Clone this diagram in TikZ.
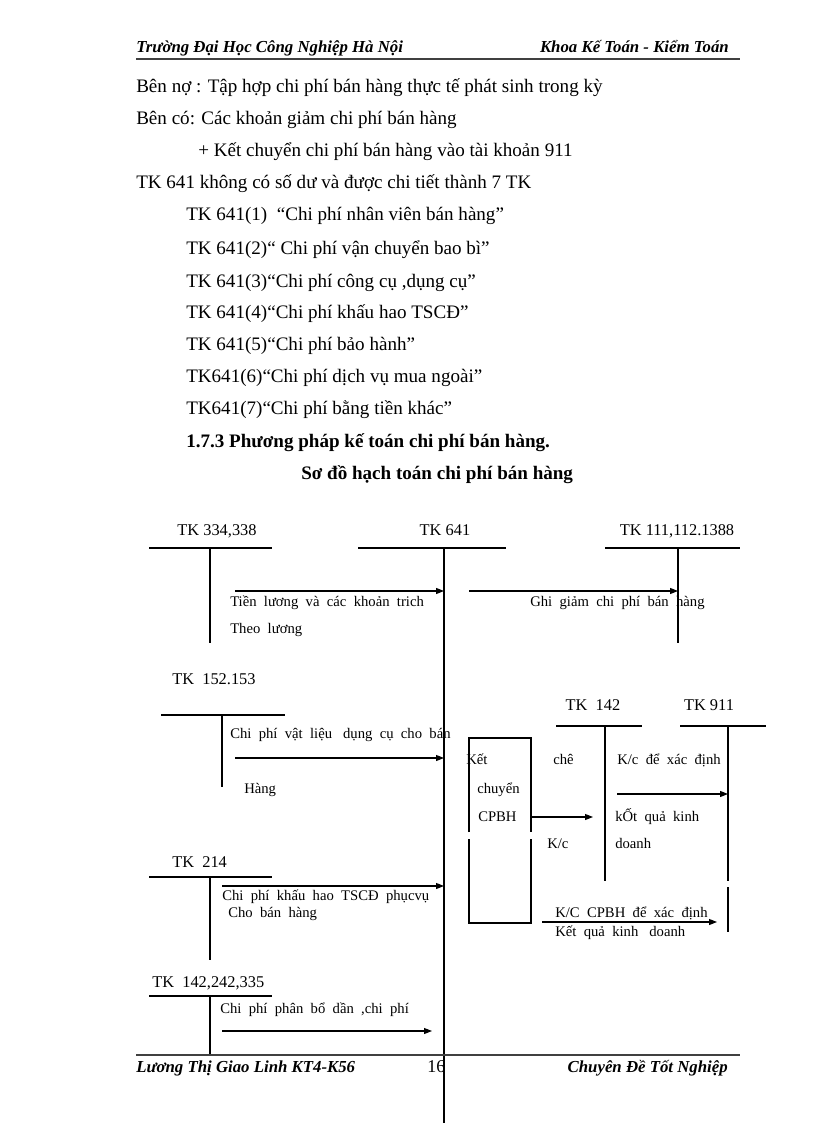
\documentclass[tikz,border=0pt]{standalone}
\usepackage{fontspec}
\setmainfont{Liberation Serif}
\usetikzlibrary{arrows.meta}
\begin{document}
\begin{tikzpicture}[x=0.75pt,y=-0.75pt,
  body/.style={anchor=base west,inner sep=0pt,font=\fontsize{14.3}{16}\selectfont},
  bodyb/.style={body,font=\fontsize{14.3}{16}\selectfont\bfseries},
  dtext/.style={anchor=base west,inner sep=0pt,font=\fontsize{11}{13}\selectfont},
  albl/.style={inner sep=0pt,font=\fontsize{12.3}{14}\selectfont},
  hf/.style={inner sep=0pt,font=\fontsize{12.6}{14}\selectfont\bfseries\itshape},
  acct/.style={line width=0.8pt},
  flow/.style={line width=0.8pt,-{Triangle[length=6pt,width=4.5pt]}},
  pagerule/.style={line width=0.8pt,black!75}]
\useasboundingbox (0,0) rectangle (816,1123);
% header
\node[hf,anchor=base west] (h1) at (136,53) {Trường Đại Học Công Nghiệp Hà Nội};
\node[hf,anchor=base east] (h2) at (729,53) {Khoa Kế Toán - Kiểm Toán};
\coordinate (hl1) at (136,59); \coordinate (hl2) at (740,59);
\draw[pagerule] (hl1) -- (hl2);
% body text
\node[body] (t1) at (136,93) {Bên nợ : Tập hợp chi phí bán hàng thực tế phát sinh trong kỳ};
\node[body] (t2) at (136,125) {Bên có: Các khoản giảm chi phí bán hàng};
\node[body] (t3) at (198,157) {+ Kết chuyển chi phí bán hàng vào tài khoản 911};
\node[body] (t4) at (136,189) {TK 641 không có số dư và được chi tiết thành 7 TK};
\node[body] (t5) at (186,221) {TK 641(1) \ “Chi phí nhân viên bán hàng”};
\node[body] (t6) at (186,254) {TK 641(2)“ Chi phí vận chuyển bao bì”};
\node[body] (t7) at (186,287) {TK 641(3)“Chi phí công cụ ,dụng cụ”};
\node[body] (t8) at (186,318) {TK 641(4)“Chi phí khấu hao TSCĐ”};
\node[body] (t9) at (186,350) {TK 641(5)“Chi phí bảo hành”};
\node[body] (t10) at (186,382) {TK641(6)“Chi phí dịch vụ mua ngoài”};
\node[body] (t11) at (186,414) {TK641(7)“Chi phí bằng tiền khác”};
\node[bodyb] (t12) at (186,447) {1.7.3 Phương pháp kế toán chi phí bán hàng.};
\node[bodyb] (t13) at (301,479) {Sơ đồ hạch toán chi phí bán hàng};
% ---- T accounts ----
% TK 334,338
\node[albl,anchor=base] (a1) at (217,535) {TK 334,338};
\coordinate (a1l) at (149,548); \coordinate (a1r) at (272,548);
\coordinate (a1t) at (210,548); \coordinate (a1b) at (210,643);
\draw[acct] (a1l) -- (a1r); \draw[acct] (a1t) -- (a1b);
% TK 641
\node[albl,anchor=base] (a2) at (445,535) {TK 641};
\coordinate (a2l) at (358,548); \coordinate (a2r) at (506,548);
\coordinate (a2t) at (444,548); \coordinate (a2b) at (444,1123);
\draw[acct] (a2l) -- (a2r); \draw[acct] (a2t) -- (a2b);
% TK 111,112.1388
\node[albl,anchor=base] (a3) at (677,535) {TK 111,112.1388};
\coordinate (a3l) at (605,548); \coordinate (a3r) at (740,548);
\coordinate (a3t) at (678,548); \coordinate (a3b) at (678,643);
\draw[acct] (a3l) -- (a3r); \draw[acct] (a3t) -- (a3b);
% TK 152.153
\node[albl,anchor=base west] (a4) at (172,684) {TK \ 152.153};
\coordinate (a4l) at (161,715); \coordinate (a4r) at (285,715);
\coordinate (a4t) at (222,715); \coordinate (a4b) at (222,787);
\draw[acct] (a4l) -- (a4r); \draw[acct] (a4t) -- (a4b);
% TK 214
\node[albl,anchor=base west] (a5) at (172,867) {TK \ 214};
\coordinate (a5l) at (149,877); \coordinate (a5r) at (272,877);
\coordinate (a5t) at (210,877); \coordinate (a5b) at (210,960);
\draw[acct] (a5l) -- (a5r); \draw[acct] (a5t) -- (a5b);
% TK 142,242,335
\node[albl,anchor=base west] (a6) at (152,987) {TK \ 142,242,335};
\coordinate (a6l) at (149,996); \coordinate (a6r) at (272,996);
\coordinate (a6t) at (210,996); \coordinate (a6b) at (210,1055);
\draw[acct] (a6l) -- (a6r); \draw[acct] (a6t) -- (a6b);
% TK 142
\node[albl,anchor=base] (a7) at (593,710) {TK \ 142};
\coordinate (a7l) at (556,726); \coordinate (a7r) at (642,726);
\coordinate (a7t) at (605,726); \coordinate (a7b) at (605,881);
\draw[acct] (a7l) -- (a7r); \draw[acct] (a7t) -- (a7b);
% TK 911
\node[albl,anchor=base] (a8) at (709,710) {TK 911};
\coordinate (a8l) at (680,726); \coordinate (a8r) at (766,726);
\coordinate (a8t) at (728,726); \coordinate (a8b) at (728,881);
\coordinate (a8c) at (728,887); \coordinate (a8d) at (728,932);
\draw[acct] (a8l) -- (a8r); \draw[acct] (a8t) -- (a8b); \draw[acct] (a8c) -- (a8d);
% box Ket chuyen CPBH (sides broken)
\coordinate (bx1) at (469,738); \coordinate (bx2) at (531,738);
\coordinate (bx3) at (469,923); \coordinate (bx4) at (531,923);
\coordinate (bxl1) at (469,832); \coordinate (bxl2) at (469,839);
\coordinate (bxr1) at (531,832); \coordinate (bxr2) at (531,839);
\draw[acct] (bxl1) -- (bx1) -- (bx2) -- (bxr1);
\draw[acct] (bxl2) -- (bx3) -- (bx4) -- (bxr2);
% ---- flows ----
\coordinate (f1s) at (235,591); \coordinate (f1e) at (444,591);
\draw[flow] (f1s) -- (f1e);
\node[dtext] (l1a) at (230,606) {Tiền \ lương \ và \ các \ khoản \ trich};
\node[dtext] (l1b) at (230,633) {Theo \ lương};
\coordinate (f2s) at (469,591); \coordinate (f2e) at (678,591);
\draw[flow] (f2s) -- (f2e);
\node[dtext] (l2) at (530,606) {Ghi \ giảm \ chi \ phí \ bán \ hàng};
\node[dtext] (l3a) at (230,738) {Chi \ phí \ vật \ liệu \ \ dụng \ cụ \ cho \ bán};
\coordinate (f3s) at (235,758); \coordinate (f3e) at (444,758);
\draw[flow] (f3s) -- (f3e);
\node[dtext] (l3b) at (244,793) {Hàng};
\node[dtext] (k1) at (466,764) {Kết};
\node[dtext] (k2) at (477,793) {chuyển};
\node[dtext] (k3) at (478,821) {CPBH};
\coordinate (f4s) at (531,817); \coordinate (f4e) at (593,817);
\draw[flow] (f4s) -- (f4e);
\node[dtext] (k4) at (553,764) {chê};
\node[dtext] (k5) at (547,848) {K/c};
\node[dtext] (k6) at (617,764) {K/c \ để \ xác \ định};
\coordinate (f5s) at (617,794); \coordinate (f5e) at (728,794);
\draw[flow] (f5s) -- (f5e);
\node[dtext] (k7) at (615,821) {kỐt \ quả \ kinh};
\node[dtext] (k8) at (615,848) {doanh};
\node[dtext] (k9) at (555,917) {K/C \ CPBH \ để \ xác \ định};
\coordinate (f6s) at (542,922); \coordinate (f6e) at (717,922);
\draw[flow] (f6s) -- (f6e);
\node[dtext] (k10) at (555,936) {Kết \ quả \ kinh \ \ doanh};
\coordinate (f7s) at (222,886); \coordinate (f7e) at (444,886);
\draw[flow] (f7s) -- (f7e);
\node[dtext] (l7a) at (222,900) {Chi \ phí \ khấu \ hao \ TSCĐ \ phụcvụ};
\node[dtext] (l7b) at (228,917) {Cho \ bán \ hàng};
\node[dtext] (l8) at (220,1013) {Chi \ phí \ phân \ bổ \ dần \ ,chi \ phí};
\coordinate (f8s) at (222,1031); \coordinate (f8e) at (432,1031);
\draw[flow] (f8s) -- (f8e);
% footer
\coordinate (fl1) at (136,1055); \coordinate (fl2) at (740,1055);
\draw[pagerule] (fl1) -- (fl2);
\node[hf,anchor=base west] (ft1) at (136,1072) {Lương Thị Giao Linh KT4-K56};
\node[anchor=base west,inner sep=0pt,font=\fontsize{13.5}{15}\selectfont] (ft2) at (427,1072) {16};
\node[hf,anchor=base east] (ft3) at (728,1072) {Chuyên Đề Tốt Nghiệp};
\end{tikzpicture}
\end{document}
